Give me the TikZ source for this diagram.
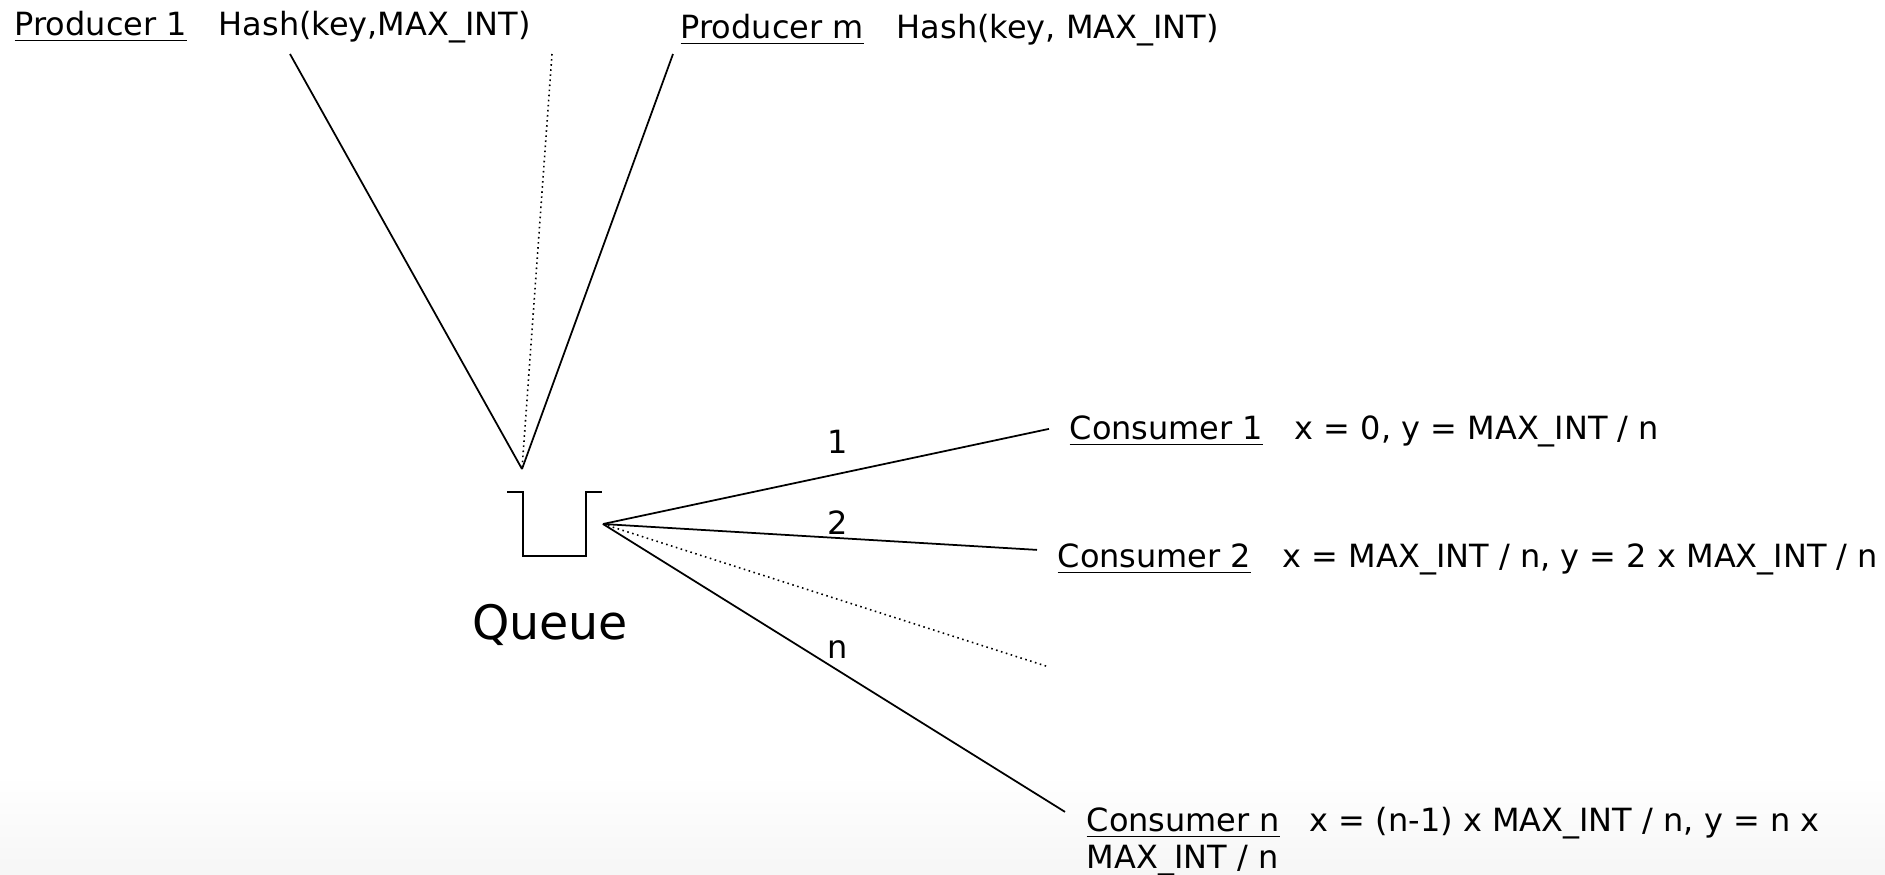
\documentclass[tikz,border=0pt]{standalone}
\usepackage{fontspec}
\setmainfont{DejaVu Sans}
\begin{document}
\begin{tikzpicture}[
  lbl/.style={inner sep=0pt, font=\fontsize{9.1}{11}\selectfont},
  wire/.style={line width=0.5pt},
  dots/.style={line width=0.45pt, densely dotted},
]

\useasboundingbox (0,0) rectangle (18.85,-8.74);
\shade[top color=white, bottom color=gray!7] (0,-7.75) rectangle (18.85,-8.74);

% producers
\node[lbl, anchor=base west] (prod1) at (0.14,-0.35) {\underline{Producer 1}};
\node[lbl, anchor=base west] (hash1) at (2.18,-0.35) {Hash(key,MAX\_INT)};
\node[lbl, anchor=base west] (prodm) at (6.80,-0.38) {\underline{Producer m}};
\node[lbl, anchor=base west] (hashm) at (8.96,-0.38) {Hash(key, MAX\_INT)};

\coordinate (p1) at (2.90,-0.54);
\coordinate (pdots) at (5.52,-0.54);
\coordinate (pm) at (6.73,-0.54);
\coordinate (qin) at (5.22,-4.69);

\draw[wire] (p1) -- (qin);
\draw[dots] (pdots) -- (qin);
\draw[wire] (pm) -- (qin);

% queue
\draw[line width=0.7pt] (5.07,-4.92) -- (5.23,-4.92) -- (5.23,-5.56) -- (5.86,-5.56) -- (5.86,-4.92) -- (6.02,-4.92);
\node[inner sep=0pt, anchor=base, font=\fontsize{13.5}{16}\selectfont] (queue) at (5.50,-6.39) {Queue};

\coordinate (qout) at (6.03,-5.24);

% consumers
\node[lbl, anchor=base west] (c1) at (10.69,-4.39) {\underline{Consumer 1}};
\node[lbl, anchor=base west] (c1f) at (12.94,-4.39) {x = 0, y = MAX\_INT / n};
\node[lbl, anchor=base west] (c2) at (10.57,-5.67) {\underline{Consumer 2}};
\node[lbl, anchor=base west] (c2f) at (12.82,-5.67) {x = MAX\_INT / n, y = 2 x MAX\_INT / n};
\node[lbl, anchor=base west] (cn) at (10.86,-8.31) {\underline{Consumer n}};
\node[lbl, anchor=base west] (cnf) at (13.09,-8.31) {x = (n-1) x MAX\_INT / n, y = n x};
\node[lbl, anchor=base west] (cnf2) at (10.86,-8.68) {MAX\_INT / n};

\coordinate (cdots) at (10.49,-6.67);

\draw[wire] (qout) -- ([xshift=-0.2cm,yshift=0.02cm]c1.west);
\draw[wire] (qout) -- ([xshift=-0.2cm,yshift=0.09cm]c2.west);
\draw[dots] (qout) -- (cdots);
\draw[wire] (qout) -- ([xshift=-0.21cm,yshift=0.11cm]cn.west);

\node[lbl] (lab1) at (8.38,-4.42) {1};
\node[lbl] (lab2) at (8.38,-5.23) {2};
\node[lbl] (labn) at (8.38,-6.50) {n};

\end{tikzpicture}
\end{document}
